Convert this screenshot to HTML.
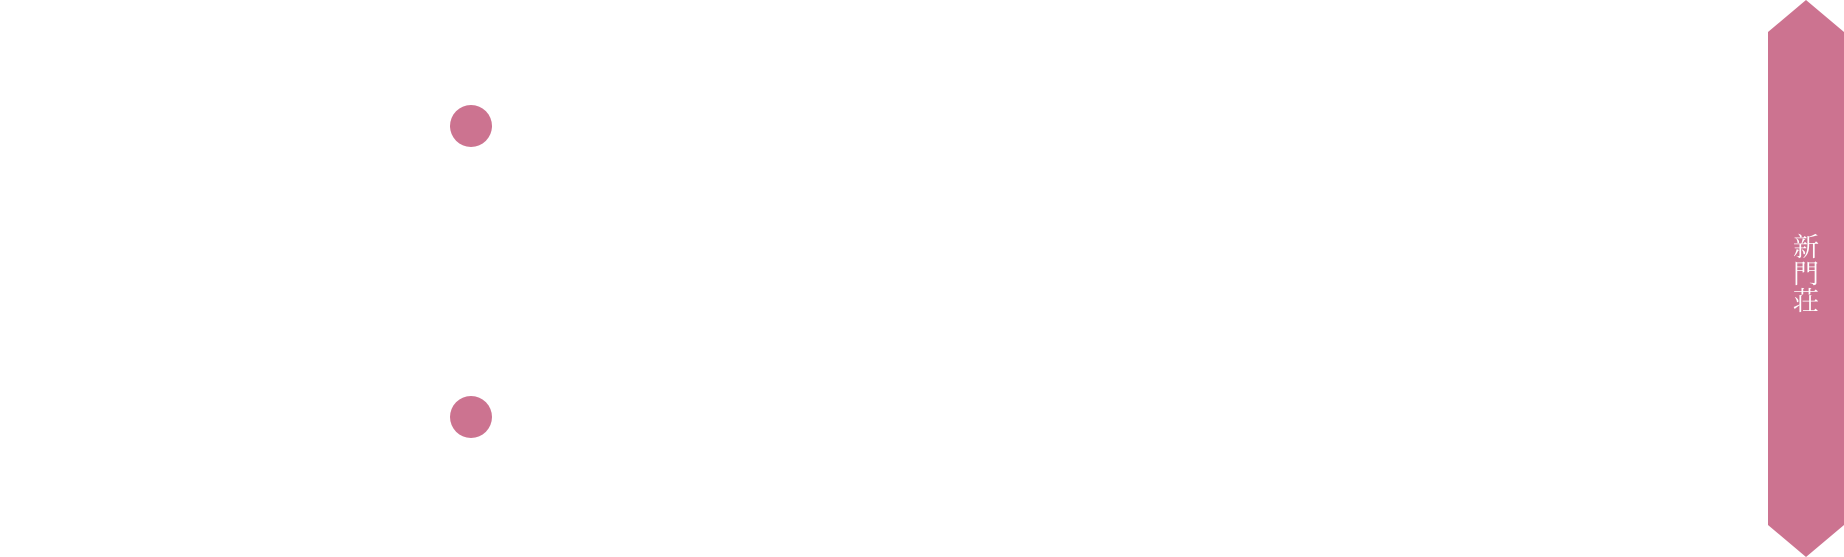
<!DOCTYPE html>
<html><head><meta charset="utf-8">
<style>
html,body{margin:0;padding:0;background:#fff;}
body{width:1844px;height:557px;position:relative;overflow:hidden;}
.c{position:absolute;width:42px;height:42px;border-radius:50%;background:#cc7390;}
.t{position:absolute;left:1791px;top:234px;width:30px;color:#fff;font-family:"Liberation Serif","Noto Serif CJK SC","Noto Serif CJK JP",serif;font-size:26px;line-height:27px;text-align:center;}
</style></head><body>
<div class="c" style="left:450px;top:105px"></div>
<div class="c" style="left:450px;top:396px"></div>
<svg style="position:absolute;left:0;top:0" width="1844" height="557">
<polygon points="1768,32 1806,0 1844,32 1844,525 1806,557 1768,525" fill="#cc7390"/>
</svg>
<div class="t">新<br>門<br>荘</div>
</body></html>
